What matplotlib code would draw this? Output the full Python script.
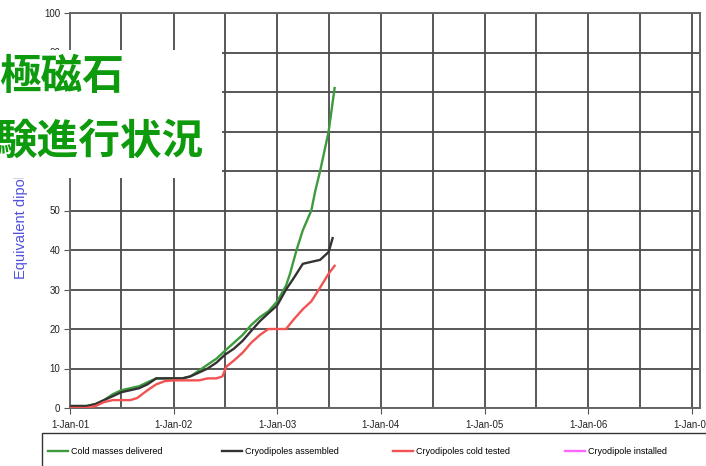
import matplotlib
matplotlib.use("Agg")
import matplotlib.pyplot as plt
import pandas as pd
from matplotlib.patches import Rectangle

plt.rcParams['font.family'] = ['Liberation Sans', 'DejaVu Sans']

# Cumulative counts of equivalent dipoles
delivered_dates = ["2001-01-01", "2001-02-01", "2001-03-01", "2001-04-01", "2001-05-01",
                   "2001-06-01", "2001-07-01", "2001-08-01", "2001-09-01", "2001-10-01",
                   "2001-11-01", "2001-12-01", "2002-01-01", "2002-02-01", "2002-03-01",
                   "2002-04-01", "2002-05-01", "2002-06-01", "2002-07-01", "2002-08-01",
                   "2002-09-01", "2002-10-01", "2002-11-01", "2002-12-01", "2003-01-01",
                   "2003-02-01", "2003-02-15", "2003-03-10", "2003-04-01", "2003-05-01",
                   "2003-05-15", "2003-06-01", "2003-07-01", "2003-07-22"]
delivered = [0.5, 0.5, 0.5, 1, 2, 3.5, 4.5, 5, 5.5, 6.5, 7.5, 7.5, 7.5, 7.5, 8,
             9.5, 11, 12.5, 14.5, 16.5, 18.5, 21, 23, 24.5, 27, 31, 34, 40, 45, 50,
             55, 60, 70, 81]

assembled_dates = ["2001-01-01", "2001-02-01", "2001-03-01", "2001-04-01", "2001-05-01",
                   "2001-06-01", "2001-07-01", "2001-08-01", "2001-09-01", "2001-10-01",
                   "2001-11-01", "2001-12-01", "2002-01-01", "2002-02-01", "2002-03-01",
                   "2002-04-01", "2002-05-01", "2002-06-01", "2002-07-01", "2002-08-01",
                   "2002-09-01", "2002-10-01", "2002-11-01", "2002-12-01", "2003-01-01",
                   "2003-02-01", "2003-03-01", "2003-04-01", "2003-05-01", "2003-06-01",
                   "2003-07-01", "2003-07-15"]
assembled = [0.5, 0.5, 0.5, 1, 2, 3, 4, 4.5, 5, 6, 7.5, 7.5, 7.5, 7.5, 8, 9, 10,
             11.5, 13.5, 15, 17, 19.5, 22, 24, 26, 30, 33, 36.5, 37, 37.5, 39.5, 43]

cold_tested_dates = ["2001-01-01", "2001-02-01", "2001-03-01", "2001-04-01", "2001-05-01",
                     "2001-06-01", "2001-07-01", "2001-08-01", "2001-08-25", "2001-10-01",
                     "2001-11-01", "2001-12-01", "2002-01-01", "2002-02-01", "2002-03-01",
                     "2002-04-01", "2002-05-01", "2002-06-01", "2002-06-22", "2002-07-06",
                     "2002-08-01", "2002-09-01", "2002-10-01", "2002-11-01", "2002-12-01",
                     "2003-01-01", "2003-02-01", "2003-03-01", "2003-04-01", "2003-05-01",
                     "2003-06-01", "2003-07-01", "2003-07-22"]
cold_tested = [0, 0, 0, 0.5, 1.5, 2, 2, 2, 2.5, 4.5, 6, 6.8, 7, 7, 7, 7, 7.5, 7.5,
               8, 10.5, 12, 14, 16.5, 18.5, 20, 20, 20, 22.5, 25, 27, 30.5, 34, 36]

installed_dates = []
installed = []

series_labels = ["Cold masses delivered", "Cryodipoles assembled",
                 "Cryodipoles cold tested", "Cryodipole installed"]
series_colors = ["#3c9b3c", "#333333", "#f25252", "#ff66ff"]

year_ticks = ["2001-01-01", "2002-01-01", "2003-01-01", "2004-01-01",
              "2005-01-01", "2006-01-01", "2007-01-01"]
year_labels = ["1-Jan-01", "1-Jan-02", "1-Jan-03", "1-Jan-04",
               "1-Jan-05", "1-Jan-06", "1-Jan-07"]
half_year_ticks = ["2001-07-01", "2002-07-01", "2003-07-01", "2004-07-01",
                   "2005-07-01", "2006-07-01"]
y_ticks = list(range(0, 101, 10))

fig = plt.figure(figsize=(7.06, 4.66), dpi=100)
ax = fig.add_axes([70 / 706, 58 / 466, 630 / 706, 395 / 466])

all_series = [(delivered_dates, delivered), (assembled_dates, assembled),
              (cold_tested_dates, cold_tested), (installed_dates, installed)]
handles = []
for (d, v), lab, col in zip(all_series, series_labels, series_colors):
    h, = ax.plot(pd.to_datetime(d), v, color=col, lw=1.7, label=lab, zorder=3)
    handles.append(h)

ax.set_xlim(pd.Timestamp("2001-01-01"), pd.Timestamp("2007-01-29"))
ax.set_ylim(0, 100)
ax.set_xticks(pd.to_datetime(year_ticks))
ax.set_xticklabels(year_labels, fontsize=7, color="#222222")
ax.set_xticks(pd.to_datetime(half_year_ticks), minor=True)
ax.set_yticks(y_ticks)
ax.set_yticklabels([str(t) for t in y_ticks], fontsize=7, color="#222222")
ax.tick_params(axis="x", which="major", length=4, color="#555555", pad=5)
ax.tick_params(axis="x", which="minor", length=0)
ax.tick_params(axis="y", length=4, color="#555555", pad=3)
ax.grid(True, which="both", color="#4a4a4a", lw=1.3, zorder=1)
for s in ax.spines.values():
    s.set_color("#666666")
    s.set_linewidth(1.4)

fig.text(21 / 706, 1 - 219 / 466, "Equivalent dipoles", fontsize=10.5,
         color="#5050dd", rotation=90, ha="center", va="center")

# Legend: framed strip with four evenly spaced entries
fig.patches.append(Rectangle((42 / 706, -10 / 466), 680 / 706, 43 / 466,
                             transform=fig.transFigure, facecolor="white",
                             edgecolor="#333333", lw=1.0, zorder=5))
entry_x = [48, 222, 393, 565]
for h, lab, ex in zip(handles, series_labels, entry_x):
    leg = fig.legend(handles=[h], labels=[lab], loc="center left",
                     bbox_to_anchor=(ex / 706, 1 - 452 / 466),
                     fontsize=6.5, frameon=False, handlelength=2.2,
                     handletextpad=0.3, borderpad=0, borderaxespad=0)
    leg.set_zorder(6)

# Title panel
fig.patches.append(Rectangle((0, 1 - 178 / 466), 222 / 706, 128 / 466,
                             transform=fig.transFigure, facecolor="white",
                             edgecolor="none", zorder=10))
title_font = ["Noto Sans CJK JP", "DejaVu Sans"]
fig.text(-1 / 706, 1 - 77 / 466, "極磁石", family=title_font, fontsize=30,
         fontweight="bold", color="#0d9a0d", va="center", ha="left", zorder=11)
fig.text(-5 / 706, 1 - 142 / 466, "験進行状況", family=title_font, fontsize=30,
         fontweight="bold", color="#0d9a0d", va="center", ha="left", zorder=11)

fig.savefig("out.png", dpi=100)
